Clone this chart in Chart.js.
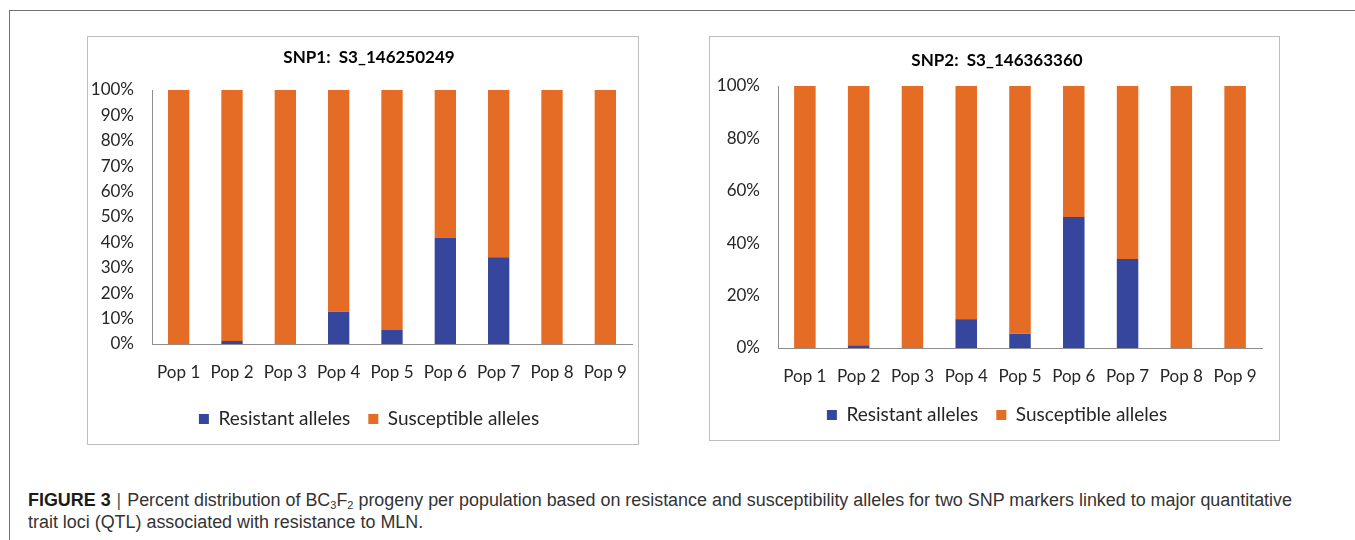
<!DOCTYPE html>
<html>
<head>
<meta charset="utf-8">
<script src="https://cdn.jsdelivr.net/npm/chart.js@4.4.1/dist/chart.umd.min.js"></script>
<style>
  html, body { margin: 0; padding: 0; background: #fff; }
  body { width: 1355px; height: 540px; position: relative; overflow: hidden; }
  .frame { position: absolute; left: 9px; top: 10px; width: 1400px; height: 600px;
           border-top: 1px solid #707070; border-left: 1px solid #707070; }
  .panel { position: absolute; border: 1px solid #bdbdbd; background: #fff; }
  #panel1 { left: 87px; top: 36px; width: 550px; height: 407px; }
  #panel2 { left: 709px; top: 36px; width: 569px; height: 403px; }
  .wrap { position: absolute; }
  #wrap1 { left: 60px; top: 37px; width: 600px; height: 407px; }
  #wrap2 { left: 690px; top: 37px; width: 602px; height: 404px; }
  .caption { position: absolute; left: 28px; top: 489px;
             font-family: "Liberation Sans", Arial, sans-serif;
             font-size: 18px; line-height: 22px; color: #333; white-space: nowrap;
             transform-origin: 0 0; }
  .caption b { color: #1a1a1a; }
  .caption .sep { color: #555; margin: 0 6px; }
  .caption sub { font-size: 11px; line-height: 0; vertical-align: -3px; }
</style>
</head>
<body>
<div class="frame"></div>
<div class="panel" id="panel1"></div>
<div class="panel" id="panel2"></div>
<div class="wrap" id="wrap1"><canvas id="snp1"></canvas></div>
<div class="wrap" id="wrap2"><canvas id="snp2"></canvas></div>
<div class="caption" id="caption"><span id="captionLine1"><b>FIGURE 3</b><span class="sep">|</span>Percent distribution of BC<sub>3</sub>F<sub>2</sub> progeny per population based on resistance and susceptibility alleles for two SNP markers linked to major quantitative</span><br>trait loci (QTL) associated with resistance to MLN.</div>
<script>
// Populations on the x axis
const populations = ['Pop 1', 'Pop 2', 'Pop 3', 'Pop 4', 'Pop 5', 'Pop 6', 'Pop 7', 'Pop 8', 'Pop 9'];

// SNP1: S3_146250249 (percent of alleles)
const snp1Resistant   = [0, 1.2, 0, 12.7, 5.5, 41.8, 34.2, 0, 0];
const snp1Susceptible = [100, 98.8, 100, 87.3, 94.5, 58.2, 65.8, 100, 100];

// SNP2: S3_146363360 (percent of alleles)
const snp2Resistant   = [0, 1.0, 0, 11.0, 5.4, 50.0, 34.0, 0, 0];
const snp2Susceptible = [100, 99.0, 100, 89.0, 94.6, 50.0, 66.0, 100, 100];

// Y axis tick values for each chart
const snp1Ticks = [0, 10, 20, 30, 40, 50, 60, 70, 80, 90, 100];
const snp2Ticks = [0, 20, 40, 60, 80, 100];

const seriesNames = ['Resistant alleles', 'Susceptible alleles'];
const resistantColor = '#35469c';
const susceptibleColor = '#e46c24';

Chart.defaults.font.family = 'Lato, "Open Sans", sans-serif';
Chart.defaults.color = '#262626';

function buildChart(id, title, resistant, susceptible, ticks, layout) {
  const ctx = document.getElementById(id);
  return new Chart(ctx, {
    type: 'bar',
    data: {
      labels: populations,
      datasets: [
        { label: seriesNames[0], data: resistant, backgroundColor: resistantColor,
          borderWidth: 0, barPercentage: 0.4, categoryPercentage: 1 },
        { label: seriesNames[1], data: susceptible, backgroundColor: susceptibleColor,
          borderWidth: 0, barPercentage: 0.4, categoryPercentage: 1 }
      ]
    },
    options: {
      responsive: true,
      maintainAspectRatio: false,
      animation: false,
      layout: { padding: { left: layout.padLeft, right: layout.padRight, top: 0, bottom: layout.padBottom } },
      plugins: {
        title: {
          display: true, text: title, color: '#000',
          font: { size: 17, weight: 'bold' },
          padding: { top: layout.titleTop, bottom: layout.titleBottom }
        },
        legend: {
          position: 'bottom',
          labels: { boxWidth: 10, boxHeight: 10, padding: 18, color: '#262626', font: { size: 19 } }
        },
        tooltip: { enabled: false }
      },
      scales: {
        x: {
          stacked: true,
          grid: { display: false, drawTicks: false },
          border: { display: true, color: '#8e8e8e', width: 1 },
          ticks: { padding: 18.8, font: { size: 17 }, maxRotation: 0, autoSkip: false },
          afterFit: (scale) => { scale.height = layout.xHeight; }
        },
        y: {
          stacked: true, min: 0, max: 100,
          grid: { display: false, drawTicks: false },
          border: { display: true, color: '#8e8e8e', width: 1 },
          afterBuildTicks: (scale) => { scale.ticks = ticks.map(v => ({ value: v })); },
          ticks: { padding: 18, font: { size: 17 }, callback: (v) => v + '%' },
          afterFit: (scale) => { scale.width = layout.yWidth; }
        },
        // empty right-hand margin so the title and legend centre over the panel
        margin: {
          position: 'right', display: true, min: 0, max: 100,
          grid: { display: false, drawTicks: false },
          border: { display: false },
          ticks: { display: false },
          afterFit: (scale) => { scale.width = layout.rightWidth; }
        }
      }
    }
  });
}

// title size 17 -> line height 20.4
buildChart('snp1', 'SNP1:  S3_146250249', snp1Resistant, snp1Susceptible, snp1Ticks,
  { padLeft: 20, padRight: 2, padBottom: 5.5, titleTop: 10.8, titleBottom: 21.8,
    xHeight: 47.5, yWidth: 72, rightWidth: 26 });
buildChart('snp2', 'SNP2:  S3_146363360', snp2Resistant, snp2Susceptible, snp2Ticks,
  { padLeft: 14, padRight: 2, padBottom: 6.5, titleTop: 13.8, titleBottom: 14.8,
    xHeight: 39.5, yWidth: 74, rightWidth: 28 });

// Condense the caption so its first line runs the full text width
const caption = document.getElementById('caption');
const line1 = document.getElementById('captionLine1');
const targetWidth = 1264;
const naturalWidth = line1.getBoundingClientRect().width;
if (naturalWidth > 0) caption.style.transform = 'scaleX(' + (targetWidth / naturalWidth) + ')';
</script>
</body>
</html>
